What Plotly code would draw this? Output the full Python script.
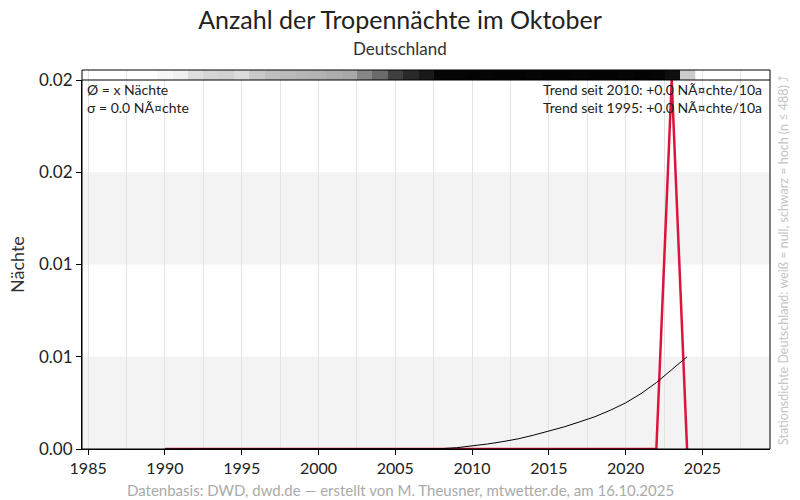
import plotly.graph_objects as go

# ---- data ----
years = list(range(1990, 2025))
naechte = [0.0] * 33 + [0.02, 0.0]  # 1990..2022 = 0, 2023 = 0.02, 2024 = 0
trend = [0, 0, 0, 0, 0, 0, 0, 0, 0, 0,            # 1990-1999
         0, 0, 0, 0, 0, 0, 0, 0, 0.00002, 0.00007,  # 2000-2009
         0.00015, 0.00027, 0.0004, 0.00055, 0.00075, 0.00097, 0.0012, 0.00147, 0.00175, 0.0021,  # 2010-2019
         0.0025, 0.003, 0.0036, 0.0043, 0.005]     # 2020-2024
stationsdichte = [0.03, 0.06, 0.13, 0.17, 0.18, 0.14, 0.21, 0.25, 0.27, 0.29,
                  0.30, 0.32, 0.34, 0.47, 0.58, 0.75, 0.84, 0.90, 0.98, 0.98,
                  0.99, 0.98, 0.99, 0.99, 0.98, 0.99, 0.99, 0.98, 0.99, 0.99,
                  0.98, 0.99, 0.98, 0.94, 0.20]
ytickvals = [0, 0.005, 0.01, 0.015, 0.02]
yticktext = ["0.00", "0.01", "0.01", "0.02", "0.02"]
xtickvals = [1985, 1990, 1995, 2000, 2005, 2010, 2015, 2020, 2025]
bands = [(0, 0.005), (0.01, 0.015)]

FONT = "Lato"
W, H = 800, 500
ml, mr, mt, mb = 82, 30, 70, 51
ph = H - mt - mb
strip_px = 10
split = 1 - strip_px / ph

fig = go.Figure()

fig.add_trace(go.Heatmap(
    x=years, y=[0], z=[stationsdichte], xaxis="x", yaxis="y2",
    colorscale=[[0, "#ffffff"], [1, "#000000"]], zmin=0, zmax=1,
    showscale=False, hoverinfo="skip"))

fig.add_trace(go.Scatter(x=years, y=naechte, mode="lines",
                         line=dict(color="#dc143c", width=2.5), showlegend=False))
fig.add_trace(go.Scatter(x=years, y=trend, mode="lines",
                         line=dict(color="#000000", width=1), showlegend=False))

shapes = []
for lo, hi in bands:
    shapes.append(dict(type="rect", xref="paper", yref="y", x0=0, x1=1, y0=lo, y1=hi,
                       fillcolor="#f3f3f3", line=dict(width=0), layer="below"))
shapes.append(dict(type="rect", xref="paper", yref="paper", x0=0, x1=1, y0=0, y1=1,
                   line=dict(color="#000000", width=1), layer="above"))
shapes.append(dict(type="line", xref="paper", yref="paper", x0=0, x1=1, y0=split, y1=split,
                   line=dict(color="#000000", width=1), layer="above"))

def py(pix):
    return (H - mb - pix) / ph

def px(pix):
    return (pix - ml) / (W - ml - mr)

def anno(text, xpix, ypix, size, color, xanchor="center", angle=0):
    return dict(text=text, x=px(xpix), y=py(ypix), xref="paper", yref="paper",
                xanchor=xanchor, yanchor="middle", showarrow=False, textangle=angle,
                font=dict(size=size, color=color, family=FONT))

annos = [
    anno("Deutschland", 400, 48, 17, "#333333"),
    anno("Datenbasis: DWD, dwd.de — erstellt von M. Theusner, mtwetter.de, am 16.10.2025",
         400, 490, 15, "#aaaaaa"),
    anno("Nächte", 17, 265, 18, "#333333", angle=-90),
    anno("Ø = x Nächte", 85, 90, 14, "#222222", xanchor="left"),
    anno("σ = 0.0 NÃ¤chte", 85, 107, 14, "#222222", xanchor="left"),
    anno("Trend seit 2010: +0.0 NÃ¤chte/10a", 764, 90, 14, "#222222", xanchor="right"),
    anno("Trend seit 1995: +0.0 NÃ¤chte/10a", 764, 107, 14, "#222222", xanchor="right"),
    anno("Stationsdichte Deutschland: weiß = null, schwarz = hoch (n ≤ 488) ⤴",
         783, 260, 12.5, "#c4c4c4", angle=-90),
]

fig.update_layout(
    width=W, height=H,
    margin=dict(l=ml, r=mr, t=mt, b=mb, autoexpand=False),
    paper_bgcolor="#ffffff", plot_bgcolor="#ffffff",
    font=dict(family=FONT, color="#222222"),
    title=dict(text="Anzahl der Tropennächte im Oktober", x=0.5, xanchor="center",
               y=1 - 20 / H, yanchor="middle", yref="container",
               font=dict(size=25, color="#222222", family=FONT)),
    showlegend=False,
    xaxis=dict(range=[1984.6, 2029.4], tickvals=xtickvals, ticks="outside", ticklen=5,
               tickcolor="#000000", showline=True, linecolor="#000000", linewidth=1,
               showgrid=True, gridcolor="#e4e4e4", gridwidth=1, zeroline=False,
               minor=dict(dtick=2.5, tick0=1985, showgrid=True, gridcolor="#e4e4e4"),
               tickfont=dict(size=16, color="#222222"), anchor="y"),
    yaxis=dict(domain=[0, split], range=[0, 0.02], tickvals=ytickvals, ticktext=yticktext,
               ticks="outside", ticklen=5, tickcolor="#000000", showline=True,
               linecolor="#000000", showgrid=False, zeroline=False,
               tickfont=dict(size=17, color="#222222")),
    yaxis2=dict(domain=[split, 1], anchor="x", showticklabels=False, showgrid=False,
                zeroline=False, ticks="", range=[-0.5, 0.5]),
    shapes=shapes,
    annotations=annos,
)

fig.write_html("out.html", config={"displayModeBar": False},
               post_script="document.body.style.margin='0';document.body.style.padding='0';")
